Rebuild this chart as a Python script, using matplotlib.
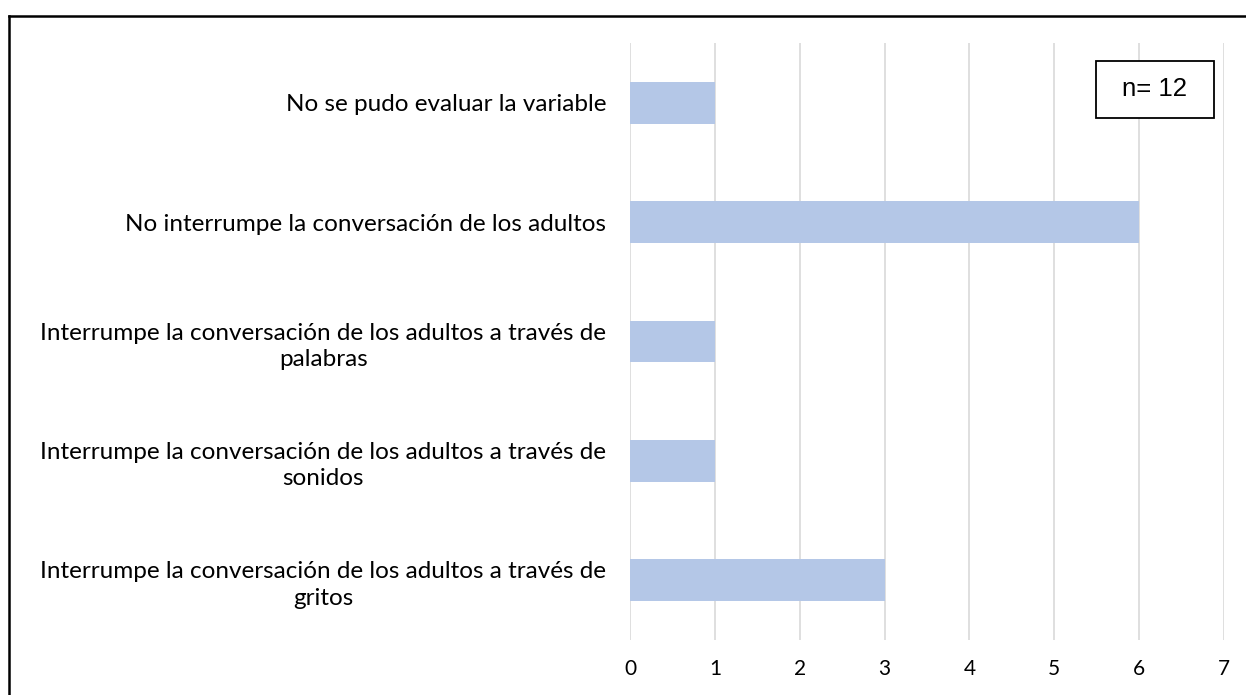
import numpy as np
import matplotlib.pyplot as plt
from matplotlib.lines import Line2D
from matplotlib.patches import Rectangle

categories = [
    'Interrumpe la conversación de los adultos a través de\ngritos',
    'Interrumpe la conversación de los adultos a través de\nsonidos',
    'Interrumpe la conversación de los adultos a través de\npalabras',
    'No interrumpe la conversación de los adultos',
    'No se pudo evaluar la variable',
]
counts = [3, 1, 1, 6, 1]
xticks = [0, 1, 2, 3, 4, 5, 6, 7]
note = 'n= 12'

bar_color = '#B4C7E7'
grid_color = '#D9D9D9'

fig = plt.figure(figsize=(12.46, 6.95), dpi=100)
ax = fig.add_axes([0.5056, 0.0791, 0.4767, 0.859])

y = np.arange(len(categories))
ax.barh(y, counts, height=0.35, color=bar_color, zorder=3)
ax.set_ylim(-0.5, len(categories) - 0.5)
ax.set_xlim(0, 7)
ax.set_xticks(xticks)
ax.set_yticks(y)
ax.set_yticklabels(categories, fontfamily='Lato', fontsize=17.5, multialignment='center', linespacing=1.32)
ax.tick_params(axis='y', length=0, pad=17)
ax.tick_params(axis='x', length=0, pad=14, labelsize=15)
for lbl in ax.get_xticklabels():
    lbl.set_fontfamily('Lato')
ax.xaxis.grid(True, color=grid_color, linewidth=1.2, zorder=0)
for s in ax.spines.values():
    s.set_visible(False)

# n box
fig.add_artist(Rectangle((1096 / 1246, 1 - 118 / 695), 118 / 1246, 57 / 695, transform=fig.transFigure,
                         facecolor='white', edgecolor='black', linewidth=1.3, zorder=5))
fig.text((1096 + 59) / 1246, 1 - 89.5 / 695, note, fontfamily='Liberation Sans', fontsize=18.5,
         ha='center', va='center', zorder=6)

# outer frame (top and left visible)
fig.add_artist(Line2D([0.0075, 1.0], [1 - 16 / 695, 1 - 16 / 695], color='black', linewidth=1.8, transform=fig.transFigure))
fig.add_artist(Line2D([0.0075, 0.0075], [0.0, 1 - 16 / 695], color='black', linewidth=1.8, transform=fig.transFigure))

plt.savefig('out.png', dpi=100)
